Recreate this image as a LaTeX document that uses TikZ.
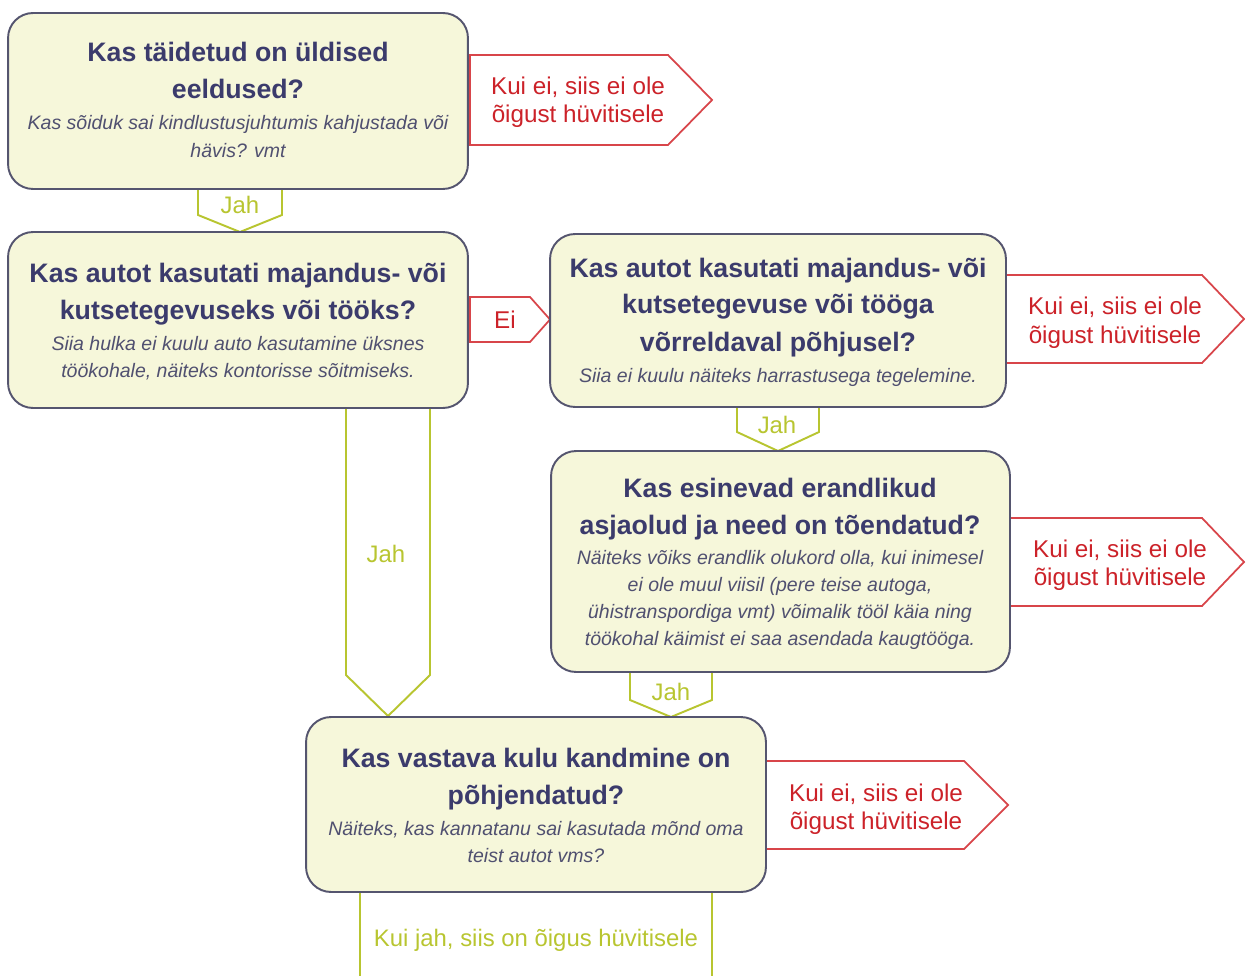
\documentclass[tikz,border=0pt]{standalone}
\usepackage{fontspec}
\setmainfont{Liberation Sans}
\definecolor{boxfill}{HTML}{F6F7DA}
\definecolor{boxline}{HTML}{55556F}
\definecolor{titlecol}{HTML}{3B3B6C}
\definecolor{subcol}{HTML}{505070}
\definecolor{redline}{HTML}{D8454A}
\definecolor{redtext}{HTML}{CC2229}
\definecolor{greenline}{HTML}{B8C530}
\begin{document}
\begin{tikzpicture}[x=0.02cm,y=-0.02cm,
  box/.style={draw=boxline,fill=boxfill,line width=1.1pt,rounded corners=0.5cm,inner sep=0pt},
  title/.style={anchor=base,inner sep=0pt,text=titlecol,font=\fontsize{15.2}{18}\selectfont\bfseries},
  sub/.style={anchor=base,inner sep=0pt,text=subcol,font=\fontsize{11.1}{13}\selectfont\itshape},
  redarrow/.style={draw=redline,fill=white,line width=1pt,line join=miter},
  redlbl/.style={anchor=base,inner sep=0pt,text=redtext,font=\fontsize{13.8}{16}\selectfont},
  greenarrow/.style={draw=greenline,fill=white,line width=1.1pt,line join=miter},
  greenlbl/.style={anchor=base,inner sep=0pt,text=greenline,font=\fontsize{13.6}{16}\selectfont}]
\useasboundingbox (0,0) rectangle (1246,976);

% connectors (drawn first, behind boxes)
\draw[redarrow] (470,55) -- (668,55) -- (712,100) -- (668,145) -- (470,145) -- cycle;
\draw[redarrow] (470,297) -- (530,297) -- (550,319.5) -- (530,342) -- (470,342) -- cycle;
\draw[redarrow] (1006,275) -- (1202,275) -- (1244,319) -- (1202,363) -- (1006,363) -- cycle;
\draw[redarrow] (1010,518) -- (1202,518) -- (1244,562) -- (1202,606) -- (1010,606) -- cycle;
\draw[redarrow] (766,761) -- (964,761) -- (1008,805) -- (964,849) -- (766,849) -- cycle;
\draw[greenarrow] (198,189) -- (282,189) -- (282,215) -- (240,232) -- (198,215) -- cycle;
\draw[greenarrow] (737,407) -- (819,407) -- (819,432) -- (778,451) -- (737,432) -- cycle;
\draw[greenarrow] (630,672) -- (712,672) -- (712,700) -- (671,717) -- (630,700) -- cycle;
\draw[greenarrow] (346,408) -- (430,408) -- (430,675) -- (388,716) -- (346,675) -- cycle;
\draw[greenarrow,fill=none] (360,976) -- (360,892) -- (712,892) -- (712,976);

% boxes
\node[box,minimum width=9.2cm,minimum height=3.52cm] (b1) at (238,101) {};
\node[box,minimum width=9.2cm,minimum height=3.52cm] (b2) at (238,320) {};
\node[box,minimum width=9.12cm,minimum height=3.46cm] (b3) at (778,320.5) {};
\node[box,minimum width=9.18cm,minimum height=4.42cm] (b4) at (780.5,561.5) {};
\node[box,minimum width=9.2cm,minimum height=3.5cm] (b5) at (536,804.5) {};

% box 1
\node[title] (t1a) at (238,62) {Kas täidetud on üldised};
\node[title] (t1b) at (238,99) {eeldused?};
\node[sub] (s1a) at (238,130) {Kas sõiduk sai kindlustusjuhtumis kahjustada või};
\node[sub] (s1b) at (238,158) {hävis? vmt};
% box 2
\node[title] (t2a) at (238,282) {Kas autot kasutati majandus- või};
\node[title] (t2b) at (238,319) {kutsetegevuseks või tööks?};
\node[sub] (s2a) at (238,350) {Siia hulka ei kuulu auto kasutamine üksnes};
\node[sub] (s2b) at (238,377) {töökohale, näiteks kontorisse sõitmiseks.};
% box 3
\node[title] (t3a) at (778,277) {Kas autot kasutati majandus- või};
\node[title] (t3b) at (778,314) {kutsetegevuse või tööga};
\node[title] (t3c) at (778,351) {võrreldaval põhjusel?};
\node[sub] (s3a) at (778,382) {Siia ei kuulu näiteks harrastusega tegelemine.};
% box 4
\node[title] (t4a) at (780,497) {Kas esinevad erandlikud};
\node[title] (t4b) at (780,534) {asjaolud ja need on tõendatud?};
\node[sub] (s4a) at (780,564) {Näiteks võiks erandlik olukord olla, kui inimesel};
\node[sub] (s4b) at (780,591) {ei ole muul viisil (pere teise autoga,};
\node[sub] (s4c) at (780,618) {ühistranspordiga vmt) võimalik tööl käia ning};
\node[sub] (s4d) at (780,645) {töökohal käimist ei saa asendada kaugtööga.};
% box 5
\node[title] (t5a) at (536,767) {Kas vastava kulu kandmine on};
\node[title] (t5b) at (536,804) {põhjendatud?};
\node[sub] (s5a) at (536,835) {Näiteks, kas kannatanu sai kasutada mõnd oma};
\node[sub] (s5b) at (536,862) {teist autot vms?};

% red labels
\node[redlbl] (r1a) at (578,95) {Kui ei, siis ei ole};
\node[redlbl] (r1b) at (578,123) {õigust hüvitisele};
\node[redlbl] (r2a) at (1115,315) {Kui ei, siis ei ole};
\node[redlbl] (r2b) at (1115,343) {õigust hüvitisele};
\node[redlbl] (r3a) at (1120,557) {Kui ei, siis ei ole};
\node[redlbl] (r3b) at (1120,585) {õigust hüvitisele};
\node[redlbl] (r4a) at (876,801) {Kui ei, siis ei ole};
\node[redlbl] (r4b) at (876,829) {õigust hüvitisele};
\node[redlbl] (ei) at (505,328) {Ei};

% green labels
\node[greenlbl] (j1) at (240,214) {Jah};
\node[greenlbl] (j2) at (777,433) {Jah};
\node[greenlbl] (j3) at (671,700) {Jah};
\node[greenlbl] (j4) at (386,562) {Jah};
\node[greenlbl] (fin) at (536,946) {Kui jah, siis on õigus hüvitisele};
\end{tikzpicture}
\end{document}
